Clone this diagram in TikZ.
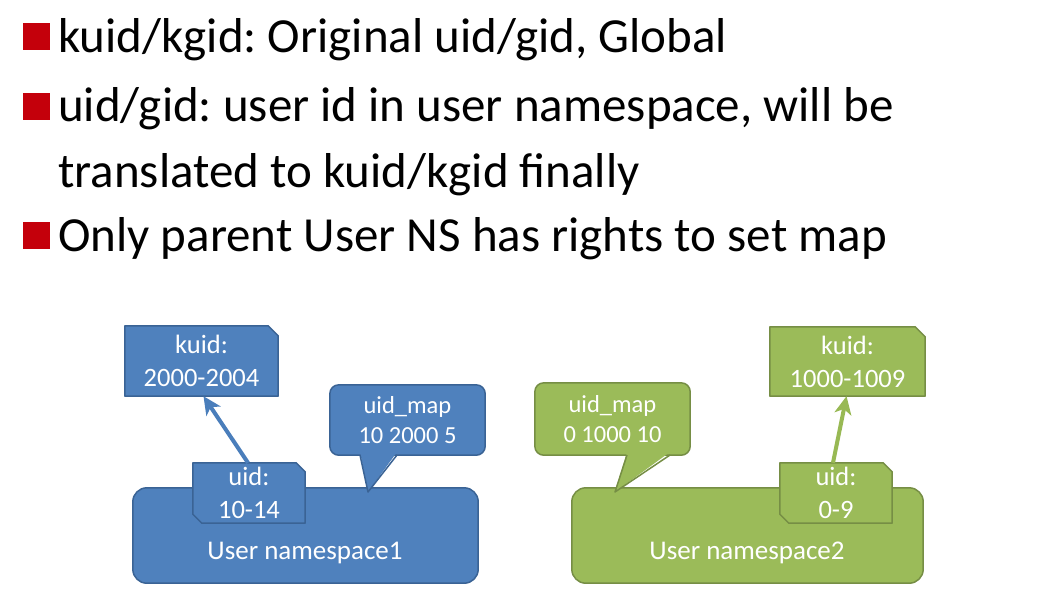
\documentclass[tikz,border=0pt]{standalone}
\usepackage{fontspec}
\setmainfont{Carlito}
\usetikzlibrary{arrows.meta,calc}
\pgfdeclarelayer{bg}
\pgfsetlayers{bg,main}
\definecolor{bfill}{HTML}{4F81BD}
\definecolor{bline}{HTML}{3A6395}
\definecolor{barrow}{HTML}{4A7EBB}
\definecolor{gfill}{HTML}{9BBB59}
\definecolor{gline}{HTML}{768E45}
\definecolor{garrow}{HTML}{98B954}
\definecolor{bulletred}{HTML}{C4000B}
\frenchspacing
\begin{document}
\begin{tikzpicture}[x=1pt,y=-1pt,
  head/.style={anchor=base west,inner sep=0pt,font=\fontsize{49}{59}\selectfont},
  sq/.style={fill=bulletred,minimum size=27pt,inner sep=0pt,anchor=south west},
  boxtext/.style={inner sep=0pt,align=center,text=white,font=\fontsize{26.5}{33}\selectfont},
  maptext/.style={inner sep=0pt,align=center,text=white,font=\fontsize{24.5}{30}\selectfont},
  bshape/.style={fill=bfill,draw=bline,line width=1.5pt,line join=round},
  gshape/.style={fill=gfill,draw=gline,line width=1.5pt,line join=round},
  barr/.style={draw=barrow,line width=4pt,-{Stealth[length=18pt,width=17pt,inset=5pt]}},
  garr/.style={draw=garrow,line width=4pt,-{Stealth[length=18pt,width=17pt,inset=5pt]}}]
\useasboundingbox (0,0) rectangle (1055,608);

% heading bullets
\node[sq] (s1) at (23,50) {};
\node[head] (t1) at (58,52) {kuid/kgid: Original uid/gid, Global};
\node[sq] (s2) at (23,120) {};
\node[head] (t2) at (58,121) {uid/gid: user id in user namespace, will be};
\node[head] (t3) at (58,187) {translated to kuid/kgid finally};
\node[sq] (s3) at (23,249) {};
\node[head] (t4) at (58,251) {Only parent User NS has rights to set map};

% ---------- blue group
\node[inner sep=0pt,minimum width=345pt,minimum height=95pt] (ns1) at (305.5,535.5) {};
\node[boxtext,font=\fontsize{27}{33}\selectfont] (ns1t) at (305,553) {User namespace1};
\node[boxtext,minimum width=153pt,minimum height=70pt] (k1) at (201.5,361) {kuid:\\2000-2004};
\node[maptext,minimum width=155pt,minimum height=70pt] (m1) at (407.5,420) {uid\_map\\10 2000 5};
\coordinate (m1tip) at (368,492);
\node[boxtext,minimum width=112pt,minimum height=60pt] (u1) at (249,493) {uid:\\10-14};

% ---------- green group
\node[inner sep=0pt,minimum width=351pt,minimum height=95pt] (ns2) at (747.5,535.5) {};
\node[boxtext,font=\fontsize{27}{33}\selectfont] (ns2t) at (747,553) {User namespace2};
\node[boxtext,minimum width=155pt,minimum height=69pt] (k2) at (847.5,361.5) {kuid:\\1000-1009};
\node[maptext,minimum width=155pt,minimum height=72pt] (m2) at (612.5,419) {uid\_map\\0 1000 10};
\coordinate (m2tip) at (615,492);
\node[boxtext,minimum width=112pt,minimum height=60pt] (u2) at (836,493) {uid:\\0-9};

\begin{pgfonlayer}{bg}
  \fill[white] (0,0) rectangle (1055,608);
  % blue
  \draw[bshape,rounded corners=14pt] (ns1.north west) rectangle (ns1.south east);
  \draw[bshape,rounded corners=9pt] (m1.north west) rectangle (m1.south east);
  \fill[bfill] (360,452) -- (m1tip) -- (397,452) -- cycle;
  \draw[bshape,fill=none] (360,455) -- (m1tip) -- (397,455);
  \draw[bshape] (k1.north west) -- ([xshift=-10pt]k1.north east) -- ([yshift=-10pt]k1.north east)
     -- (k1.south east) -- (k1.south west) -- cycle;
  \draw[bshape] (u1.north west) -- ([xshift=-9pt]u1.north east) -- ([yshift=-9pt]u1.north east)
     -- (u1.south east) -- ([xshift=9pt]u1.south west) -- ([yshift=9pt]u1.south west) -- cycle;
  % green
  \draw[gshape,rounded corners=14pt] (ns2.north west) rectangle (ns2.south east);
  \draw[gshape,rounded corners=9pt] (m2.north west) rectangle (m2.south east);
  \fill[gfill] (627,452) -- (m2tip) -- (670,452) -- cycle;
  \draw[gshape,fill=none] (627,455) -- (m2tip) -- (670,455);
  \draw[gshape] (k2.north west) -- ([xshift=-10pt]k2.north east) -- ([yshift=-10pt]k2.north east)
     -- (k2.south east) -- (k2.south west) -- cycle;
  \draw[gshape] (u2.north west) -- ([xshift=-9pt]u2.north east) -- ([yshift=-9pt]u2.north east)
     -- (u2.south east) -- ([xshift=9pt]u2.south west) -- ([yshift=9pt]u2.south west) -- cycle;
\end{pgfonlayer}

% connectors
\draw[barr] ([xshift=-1pt]u1.north) -- ([xshift=2pt]k1.south);
\draw[garr] ([xshift=-3pt]u2.north) -- ([xshift=-1pt]k2.south);
\end{tikzpicture}
\end{document}
